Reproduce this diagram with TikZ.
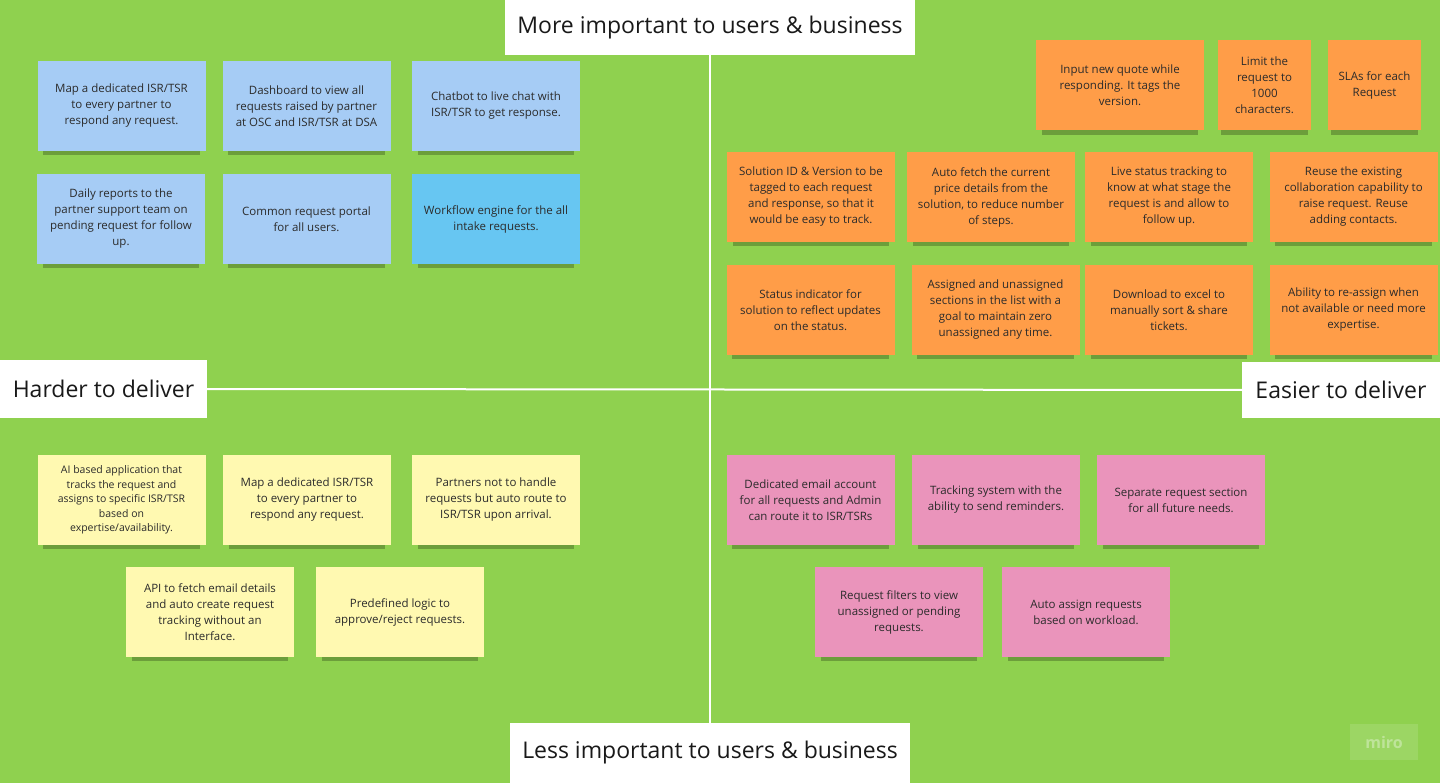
\documentclass[tikz,border=0pt]{standalone}
\usepackage{fontspec}
\setmainfont{Open Sans}
\usetikzlibrary{shadows}

\definecolor{board}{HTML}{8FD14F}
\definecolor{noteblue}{HTML}{A6CCF5}
\definecolor{notecyan}{HTML}{67C6F2}
\definecolor{noteorange}{HTML}{FF9D48}
\definecolor{noteyellow}{HTML}{FFF9B1}
\definecolor{notepink}{HTML}{EA94BB}
\definecolor{inktext}{HTML}{2B2B2B}

\begin{document}
\begin{tikzpicture}[
			x=1pt, y=-1pt,
			sticky/.style={
					minimum width=168pt,
					minimum height=90pt,
					inner sep=2pt,
					align=center,
					text=inktext,
					font=\fontsize{11.5}{16}\selectfont,
					drop shadow={shadow xshift=0pt, shadow yshift=-8pt, shadow scale=0.93, opacity=0.35, fill=black!70!board}
				},
			slim/.style={sticky, minimum width=93pt},
			axistitle/.style={
					fill=white,
					inner sep=0pt,
					text=black!90,
					font=\fontsize{23}{28}\selectfont
				},
			axisline/.style={draw=white, line width=2pt}
		]
		% board
		\fill[board] (0,0) rectangle (1440,783);
		\useasboundingbox (0,0) rectangle (1440,783);

		% axis titles
		\node[axistitle, minimum width=410pt, minimum height=55pt] (more) at (710,27.5) {More important to users \& business};
		\node[axistitle, minimum width=400pt, minimum height=60pt] (less) at (710,753) {Less important to users \& business};
		\node[axistitle, minimum width=207pt, minimum height=58pt] (harder) at (103.5,389) {Harder to deliver};
		\node[axistitle, minimum width=198pt, minimum height=56pt] (easier) at (1341,390) {Easier to deliver};

		\draw[axisline] (more.south) -- (less.north);
		\draw[axisline] (harder.east) -- (easier.west);

		% harder, more important
		\node[sticky, fill=noteblue] (b1) at (121.5,106) {Map a dedicated ISR/TSR\\ to every partner to\\ respond any request.};
		\node[sticky, fill=noteblue] (b2) at (306.5,106) {Dashboard to view all\\ requests raised by partner\\ at OSC and ISR/TSR at DSA};
		\node[sticky, fill=noteblue] (b3) at (496,106) {Chatbot to live chat with\\ ISR/TSR to get response.};
		\node[sticky, fill=noteblue] (b4) at (121,219) {Daily reports to the\\ partner support team on\\ pending request for follow\\ up.};
		\node[sticky, fill=noteblue] (b5) at (306.5,219) {Common request portal\\ for all users.};
		\node[sticky, fill=notecyan] (b6) at (496,219) {Workflow engine for the all\\ intake requests.};

		% easier, more important
		\node[sticky, fill=noteorange] (o1) at (1120,85.5) {Input new quote while\\ responding. It tags the\\ version.};
		\node[slim, fill=noteorange] (o2) at (1264.5,85.5) {Limit the\\ request to\\ 1000\\ characters.};
		\node[slim, fill=noteorange] (o3) at (1374.5,85.5) {SLAs for each\\ Request};
		\node[sticky, fill=noteorange] (o4) at (811,197) {Solution ID \& Version to be\\ tagged to each request\\ and response, so that it\\ would be easy to track.};
		\node[sticky, fill=noteorange] (o5) at (991,197) {Auto fetch the current\\ price details from the\\ solution, to reduce number\\ of steps.};
		\node[sticky, fill=noteorange] (o6) at (1169,197) {Live status tracking to\\ know at what stage the\\ request is and allow to\\ follow up.};
		\node[sticky, fill=noteorange] (o7) at (1353.5,197) {Reuse the existing\\ collaboration capability to\\ raise request. Reuse\\ adding contacts.};
		\node[sticky, fill=noteorange] (o8) at (810.5,310) {Status indicator for\\ solution to reflect updates\\ on the status.};
		\node[sticky, fill=noteorange] (o9) at (995.5,310) {Assigned and unassigned\\ sections in the list with a\\ goal to maintain zero\\ unassigned any time.};
		\node[sticky, fill=noteorange] (o10) at (1169,310) {Download to excel to\\ manually sort \& share\\ tickets.};
		\node[sticky, fill=noteorange] (o11) at (1353.5,310) {Ability to re-assign when\\ not available or need more\\ expertise.};

		% harder, less important
		\node[sticky, fill=noteyellow, font=\fontsize{10.5}{14.5}\selectfont] (y1) at (121.5,500) {AI based application that\\ tracks the request and\\ assigns to specific ISR/TSR\\ based on\\ expertise/availability.};
		\node[sticky, fill=noteyellow] (y2) at (307,500) {Map a dedicated ISR/TSR\\ to every partner to\\ respond any request.};
		\node[sticky, fill=noteyellow] (y3) at (496,500) {Partners not to handle\\ requests but auto route to\\ ISR/TSR upon arrival.};
		\node[sticky, fill=noteyellow] (y4) at (210,612) {API to fetch email details\\ and auto create request\\ tracking without an\\ Interface.};
		\node[sticky, fill=noteyellow] (y5) at (400,612) {Predefined logic to\\ approve/reject requests.};

		% easier, less important
		\node[sticky, fill=notepink] (p1) at (810.5,500) {Dedicated email account\\ for all requests and Admin\\ can route it to ISR/TSRs};
		\node[sticky, fill=notepink] (p2) at (996,500) {Tracking system with the\\ ability to send reminders.};
		\node[sticky, fill=notepink] (p3) at (1181,500) {Separate request section\\ for all future needs.};
		\node[sticky, fill=notepink] (p4) at (899,612) {Request filters to view\\ unassigned or pending\\ requests.};
		\node[sticky, fill=notepink] (p5) at (1086,612) {Auto assign requests\\ based on workload.};

		% watermark
		\node[fill=white, fill opacity=0.12, text opacity=0.35, text=white, minimum width=68pt, minimum height=36pt,
			font=\fontsize{16}{18}\selectfont\bfseries] (logo) at (1384,742) {miro};
	\end{tikzpicture}
\end{document}
